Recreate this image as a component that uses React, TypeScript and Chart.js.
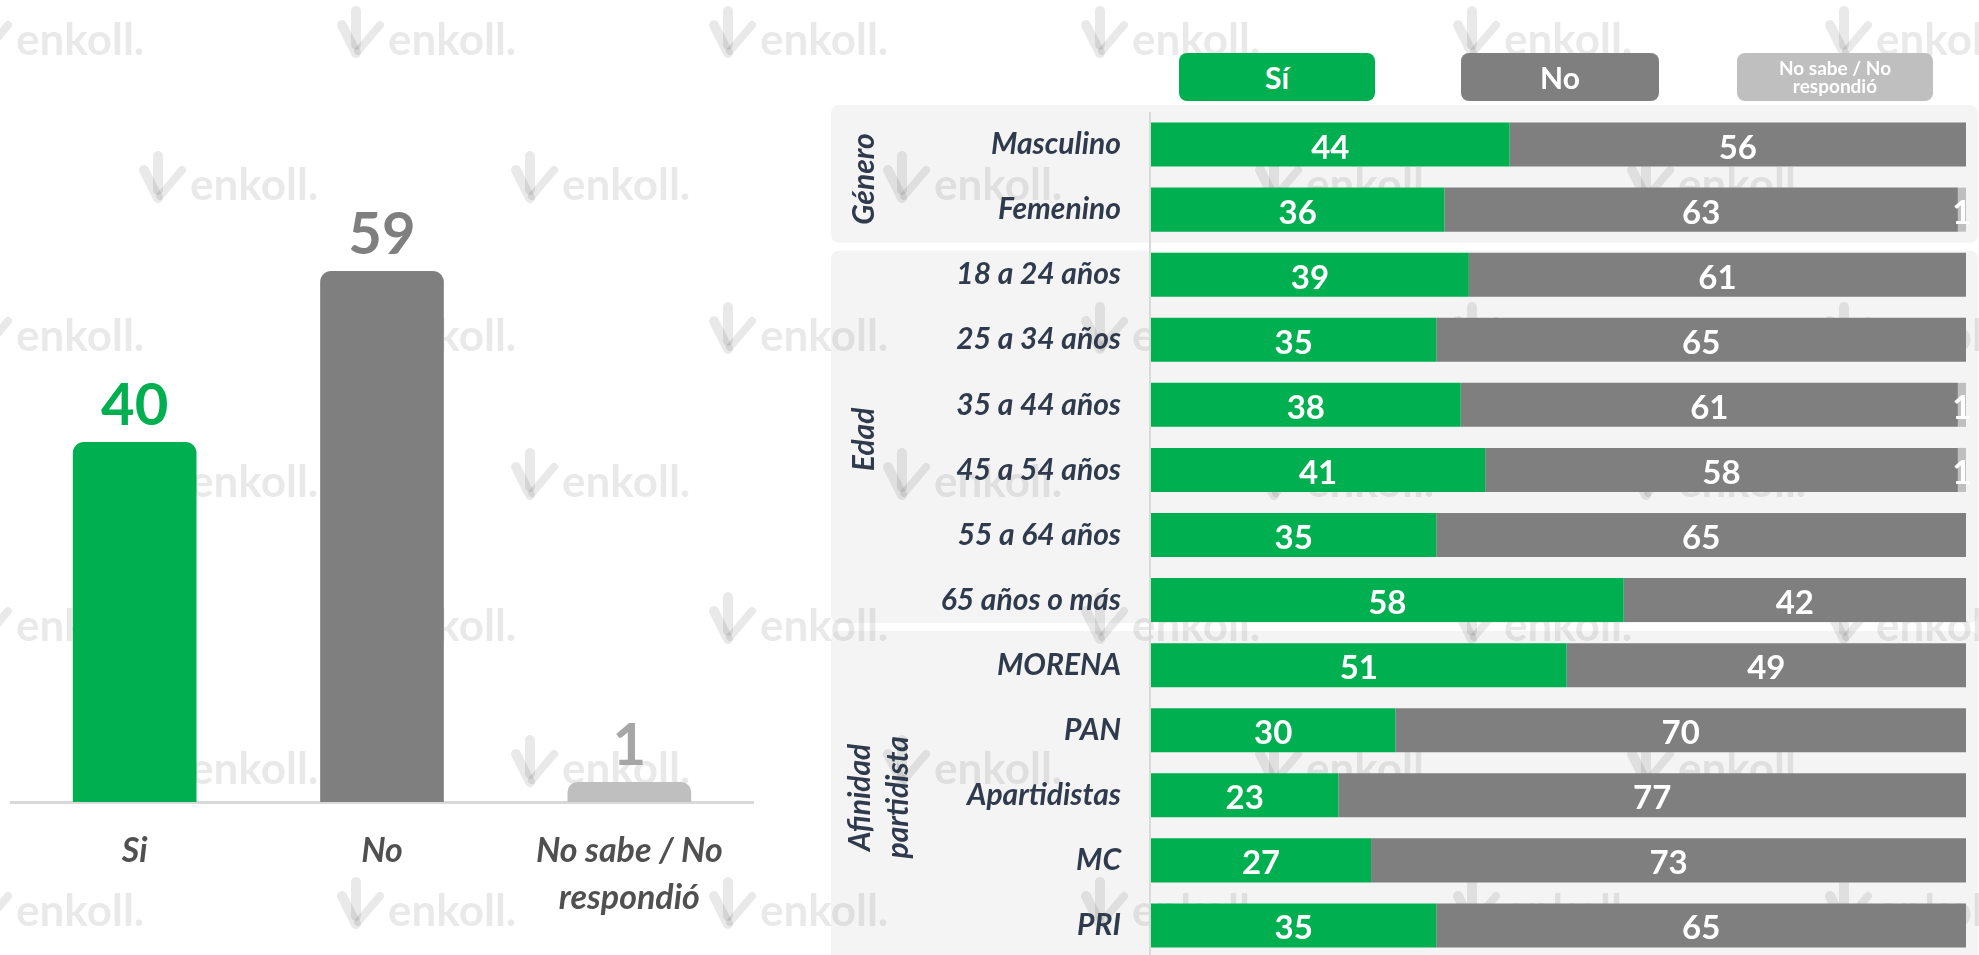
import React, { useEffect, useRef } from 'react';
import { Chart, registerables } from 'chart.js';

Chart.register(...registerables);

// ---------- Left summary chart data ----------
const summaryCategories = [['Si'], ['No'], ['No sabe / No', 'respondió']];
const summaryValues = [40, 59, 1];
const summaryColors = ['#00b050', '#7f7f7f', '#bfbfbf'];
const summaryLabelColors = ['#00b050', '#7f7f7f', '#a6a6a6'];

// ---------- Right breakdown chart data ----------
const rowLabels = [
  'Masculino', 'Femenino',
  '18 a 24 años', '25 a 34 años', '35 a 44 años', '45 a 54 años', '55 a 64 años', '65 años o más',
  'MORENA', 'PAN', 'Apartidistas', 'MC', 'PRI',
];
const siValues = [44, 36, 39, 35, 38, 41, 35, 58, 51, 30, 23, 27, 35];
const noValues = [56, 63, 61, 65, 61, 58, 65, 42, 49, 70, 77, 73, 65];
const nsValues = [0, 1, 0, 0, 1, 1, 0, 0, 0, 0, 0, 0, 0];
const seriesLabels = ['Sí', 'No', 'No sabe / No respondió'];
const legendLines = [['Sí'], ['No'], ['No sabe / No', 'respondió']];
const seriesColors = ['#00b050', '#7f7f7f', '#bfbfbf'];

const groupLabels = [['Género'], ['Edad'], ['Afinidad', 'partidista']];
const groupStarts = [0, 2, 8];
const groupEnds = [1, 7, 12];

const W = 1979;
const H = 955;
const FONT = 'Lato, "Open Sans", sans-serif';

// panel edge tweaks (px, relative to the band edges of each group)
const panelTopShift = [-7, 8.5, -1.5];
const panelBottomShift = [0.5, -9.5, 20];

function roundRect(ctx: CanvasRenderingContext2D, x: number, y: number, w: number, h: number, r: number) {
  ctx.beginPath();
  ctx.moveTo(x + r, y);
  ctx.lineTo(x + w - r, y);
  ctx.quadraticCurveTo(x + w, y, x + w, y + r);
  ctx.lineTo(x + w, y + h - r);
  ctx.quadraticCurveTo(x + w, y + h, x + w - r, y + h);
  ctx.lineTo(x + r, y + h);
  ctx.quadraticCurveTo(x, y + h, x, y + h - r);
  ctx.lineTo(x, y + r);
  ctx.quadraticCurveTo(x, y, x + r, y);
  ctx.closePath();
}

const wmBaselines = [55, 200, 351, 497, 641, 784, 926];

function drawWatermark(ctx: CanvasRenderingContext2D) {
  ctx.save();
  const col = 'rgba(0,0,0,0.085)';
  ctx.fillStyle = col;
  ctx.strokeStyle = col;
  ctx.font = `bold 44px ${FONT}`;
  ctx.textAlign = 'left';
  ctx.textBaseline = 'alphabetic';
  ctx.lineCap = 'round';
  wmBaselines.forEach((b, r) => {
    const start = r % 2 === 0 ? 16 : 190;
    for (let x = start - 372; x < W + 60; x += 372) {
      const lx = x - 52;
      ctx.lineWidth = 10;
      ctx.beginPath();
      ctx.moveTo(lx + 20, b - 44);
      ctx.lineTo(lx + 20, b - 10);
      ctx.stroke();
      ctx.beginPath();
      ctx.moveTo(lx + 6, b - 30);
      ctx.lineTo(lx + 20, b - 2);
      ctx.stroke();
      ctx.lineWidth = 8;
      ctx.beginPath();
      ctx.moveTo(lx + 22, b - 4);
      ctx.lineTo(lx + 44, b - 30);
      ctx.stroke();
      ctx.fillText('enkoll.', x, b);
    }
  });
  ctx.restore();
}

const rightDecor = {
  id: 'rightDecor',
  beforeDraw(chart: any) {
    const { ctx, chartArea, scales } = chart;
    const y = scales.y;
    const step = y.getPixelForValue(1) - y.getPixelForValue(0);
    ctx.save();
    ctx.fillStyle = '#ffffff';
    ctx.fillRect(0, 0, chart.width, chart.height);
    const panelLeft = chartArea.left - 320;
    groupStarts.forEach((s, gi) => {
      const top = y.getPixelForValue(s) - step / 2 + panelTopShift[gi];
      const bottom = y.getPixelForValue(groupEnds[gi]) + step / 2 + panelBottomShift[gi];
      ctx.fillStyle = '#f4f4f4';
      roundRect(ctx, panelLeft, top, W - 1 - panelLeft, bottom - top, 9);
      ctx.fill();
    });
    ctx.restore();
    drawWatermark(ctx);
    ctx.save();
    ctx.fillStyle = '#d9d9d9';
    ctx.fillRect(chartArea.left - 2, chartArea.top, 2, chartArea.bottom - chartArea.top + 10);
    // group labels (rotated)
    ctx.fillStyle = '#2f3b4d';
    ctx.font = `italic bold 30px ${FONT}`;
    ctx.textAlign = 'center';
    ctx.textBaseline = 'middle';
    const baseX = chartArea.left - 287;
    groupLabels.forEach((lines, gi) => {
      const cy = (y.getPixelForValue(groupStarts[gi]) + y.getPixelForValue(groupEnds[gi])) / 2 + 2;
      const n = lines.length;
      lines.forEach((line, i) => {
        const lx = baseX + (i - (n - 1) / 2) * 38 + (n > 1 ? 15 : 0);
        ctx.save();
        ctx.translate(lx, cy);
        ctx.rotate(-Math.PI / 2);
        ctx.fillText(line, 0, 0);
        ctx.restore();
      });
    });
    ctx.restore();
  },
  afterDatasetsDraw(chart: any) {
    const { ctx } = chart;
    ctx.save();
    ctx.fillStyle = '#ffffff';
    ctx.font = `bold 33px ${FONT}`;
    ctx.textAlign = 'center';
    ctx.textBaseline = 'alphabetic';
    chart.data.datasets.forEach((ds: any, di: number) => {
      const meta = chart.getDatasetMeta(di);
      meta.data.forEach((bar: any, i: number) => {
        const v = ds.data[i];
        if (!v) return;
        const cx = (bar.x + bar.base) / 2;
        ctx.fillText(String(v), cx, bar.y + 14);
      });
    });
    ctx.restore();
  },
};

const leftLabels = {
  id: 'leftLabels',
  afterDatasetsDraw(chart: any) {
    const { ctx } = chart;
    ctx.save();
    ctx.font = `bold 58px ${FONT}`;
    ctx.textAlign = 'center';
    ctx.textBaseline = 'alphabetic';
    const meta = chart.getDatasetMeta(0);
    meta.data.forEach((bar: any, i: number) => {
      ctx.fillStyle = summaryLabelColors[i];
      ctx.fillText(String(summaryValues[i]), bar.x, bar.y - 17);
    });
    ctx.restore();
  },
};

export default function App() {
  const leftRef = useRef<HTMLCanvasElement>(null);
  const rightRef = useRef<HTMLCanvasElement>(null);

  useEffect(() => {
    const rightChart = new Chart(rightRef.current as HTMLCanvasElement, {
      type: 'bar',
      data: {
        labels: rowLabels,
        datasets: [siValues, noValues, nsValues].map((vals, i) => ({
          label: seriesLabels[i],
          data: vals,
          backgroundColor: seriesColors[i],
          borderWidth: 0,
          barPercentage: 0.677,
          categoryPercentage: 1,
        })),
      },
      options: {
        indexAxis: 'y',
        responsive: false,
        animation: false,
        layout: { padding: { left: 0, right: 13, top: 112, bottom: 7 } },
        plugins: { legend: { display: false }, tooltip: { enabled: false } },
        scales: {
          x: { display: false, stacked: true, min: 0, max: 100 },
          y: {
            stacked: true,
            grid: { display: false, drawTicks: false },
            border: { display: false },
            ticks: {
              color: '#2f3b4d',
              font: { family: FONT, size: 30, style: 'italic', weight: 'bold' },
              padding: 30,
              autoSkip: false,
            },
            afterFit: (s: any) => {
              s.width = 1151;
              s.paddingTop = 0;
              s.paddingBottom = 0;
            },
          },
        },
      },
      plugins: [rightDecor],
    } as any);

    const leftChart = new Chart(leftRef.current as HTMLCanvasElement, {
      type: 'bar',
      data: {
        labels: summaryCategories,
        datasets: [{
          data: summaryValues,
          backgroundColor: summaryColors,
          borderWidth: 0,
          barPercentage: 0.5,
          categoryPercentage: 1,
          borderRadius: { topLeft: 11, topRight: 11, bottomLeft: 0, bottomRight: 0 },
          minBarLength: 20,
        }],
      },
      options: {
        responsive: false,
        animation: false,
        layout: { padding: { left: 11, right: 17, top: 172, bottom: 0 } },
        plugins: { legend: { display: false }, tooltip: { enabled: false } },
        scales: {
          x: {
            grid: { display: false, drawTicks: false },
            border: { display: true, color: '#d9d9d9', width: 3 },
            ticks: {
              color: '#505050',
              font: { family: FONT, size: 34, style: 'italic', weight: 'bold', lineHeight: 1.4 },
              padding: 25,
              maxRotation: 0,
              autoSkip: false,
            },
            afterFit: (s: any) => { s.height = 153; },
          },
          y: { display: false, min: 0, max: 70 },
        },
      },
      plugins: [leftLabels],
    } as any);

    return () => {
      leftChart.destroy();
      rightChart.destroy();
    };
  }, []);

  const legendBoxes = [
    { left: 1179, width: 196, size: 30 },
    { left: 1461, width: 198, size: 30 },
    { left: 1737, width: 196, size: 19 },
  ];

  return (
    <div style={{ position: 'fixed', left: 0, top: 0, width: W, height: H, overflow: 'hidden', background: '#fff' }}>
      <canvas ref={rightRef} width={W} height={965} style={{ position: 'absolute', left: 0, top: 0, width: W, height: 965, display: 'block' }} />
      <canvas ref={leftRef} width={770} height={H} style={{ position: 'absolute', left: 0, top: 0, width: 770, height: H, display: 'block' }} />
      {legendBoxes.map((b, i) => (
        <div key={i} style={{
          position: 'absolute', left: b.left, top: 53, width: b.width, height: 48,
          background: seriesColors[i], borderRadius: 8, color: '#fff',
          fontFamily: FONT, fontWeight: 'bold', fontSize: b.size, lineHeight: `${b.size === 30 ? 34 : 18}px`,
          display: 'flex', flexDirection: 'column', alignItems: 'center', justifyContent: 'center', textAlign: 'center',
        }}>
          {legendLines[i].map((l, j) => <span key={j}>{l}</span>)}
        </div>
      ))}
    </div>
  );
}
